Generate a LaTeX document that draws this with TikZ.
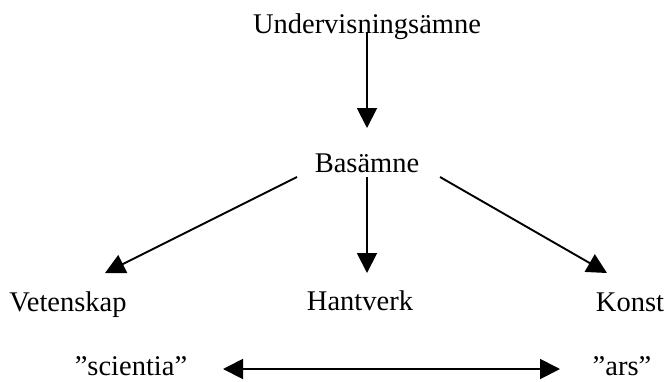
\documentclass[tikz,border=0pt]{standalone}
\usepackage{fontspec}
\setmainfont{Liberation Serif}
\usetikzlibrary{arrows.meta}
\tikzset{
  word/.style={inner sep=0pt,anchor=base,font=\fontsize{28.5}{34}\selectfont},
  arr/.style={line width=1.9pt,-{Triangle[length=20pt,width=20pt]}},
}
\begin{document}
\begin{tikzpicture}[x=1pt,y=-1pt]
\useasboundingbox (0,0) rectangle (668,381);
\node[word] (U) at (367,33) {Undervisningsämne};
\node[word] (B) at (367,172) {Basämne};
\node[word] (V) at (68,311) {Vetenskap};
\node[word] (H) at (360,310) {Hantverk};
\node[word] (K) at (630,311) {Konst};
\node[word] (S) at (131,375) {”scientia”};
\node[word] (A) at (622,375) {”ars”};
\draw[arr] ([yshift=1pt]U.base) -- ([yshift=44pt]B.base);
\draw[arr] ([xshift=-70pt,yshift=-5pt]B.base) -- ([xshift=37pt,yshift=38pt]V.base);
\draw[arr] ([yshift=-5pt]B.base) -- ([xshift=7pt,yshift=37pt]H.base);
\draw[arr] ([xshift=73pt,yshift=-5pt]B.base) -- ([xshift=-23pt,yshift=38pt]K.base);
\draw[arr,{Triangle[length=20pt,width=20pt]}-{Triangle[length=20pt,width=20pt]}] ([xshift=92pt,yshift=6pt]S.base) -- ([xshift=-62pt,yshift=6pt]A.base);
\end{tikzpicture}
\end{document}
